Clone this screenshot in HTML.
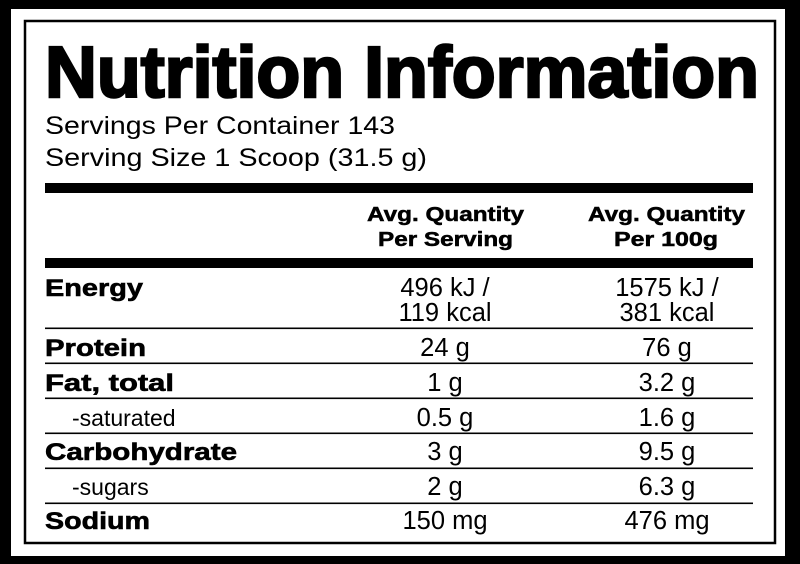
<!DOCTYPE html>
<html><head><meta charset="utf-8"><style>
html,body{margin:0;padding:0;background:#000;}
svg{display:block}
text{font-family:"Liberation Sans",Arial,sans-serif;fill:#000}
.b{font-weight:bold}
</style></head><body>
<svg width="800" height="564" viewBox="0 0 800 564" xmlns="http://www.w3.org/2000/svg">
<rect x="0" y="0" width="800" height="564" fill="#000"/>
<rect x="11" y="9" width="774" height="547" fill="#fff"/>
<rect x="25" y="21" width="750" height="522" fill="none" stroke="#000" stroke-width="2.5"/>
<text x="45" y="97" font-size="72" class="b" stroke="#000" stroke-width="2.5" textLength="714" lengthAdjust="spacingAndGlyphs">Nutrition Information</text>
<text x="45" y="134" font-size="25" textLength="350" lengthAdjust="spacingAndGlyphs">Servings Per Container 143</text>
<text x="45" y="166" font-size="25" textLength="382" lengthAdjust="spacingAndGlyphs">Serving Size 1 Scoop (31.5 g)</text>
<rect x="45" y="183" width="708" height="10" fill="#000"/>
<rect x="45" y="258" width="708" height="10" fill="#000"/>
<g class="b" font-size="20" stroke="#000" stroke-width="0.5">
<text x="367" y="221" textLength="157" lengthAdjust="spacingAndGlyphs">Avg. Quantity</text>
<text x="378" y="246" textLength="135" lengthAdjust="spacingAndGlyphs">Per Serving</text>
<text x="588" y="221" textLength="157" lengthAdjust="spacingAndGlyphs">Avg. Quantity</text>
<text x="614" y="246" textLength="104" lengthAdjust="spacingAndGlyphs">Per 100g</text>
</g>
<g fill="#000">
<rect x="45" y="327.5" width="708" height="1.6"/>
<rect x="45" y="362.5" width="708" height="1.6"/>
<rect x="45" y="397.5" width="708" height="1.6"/>
<rect x="45" y="432.5" width="708" height="1.6"/>
<rect x="45" y="467.5" width="708" height="1.6"/>
<rect x="45" y="502.5" width="708" height="1.6"/>
</g>
<g class="b" font-size="24" stroke="#000" stroke-width="0.6">
<text x="45" y="296" textLength="98" lengthAdjust="spacingAndGlyphs">Energy</text>
<text x="45" y="356" textLength="101" lengthAdjust="spacingAndGlyphs">Protein</text>
<text x="45" y="391" textLength="129" lengthAdjust="spacingAndGlyphs">Fat, total</text>
<text x="45" y="460" textLength="192" lengthAdjust="spacingAndGlyphs">Carbohydrate</text>
<text x="45" y="529" textLength="105" lengthAdjust="spacingAndGlyphs">Sodium</text>
</g>
<g font-size="23">
<text x="72" y="426">-saturated</text>
<text x="72" y="495">-sugars</text>
</g>
<g font-size="25.5" text-anchor="middle">
<text x="445" y="296">496 kJ /</text>
<text x="445" y="321">119 kcal</text>
<text x="667" y="296">1575 kJ /</text>
<text x="667" y="321">381 kcal</text>
<text x="445" y="356">24 g</text><text x="667" y="356">76 g</text>
<text x="445" y="391">1 g</text><text x="667" y="391">3.2 g</text>
<text x="445" y="426">0.5 g</text><text x="667" y="426">1.6 g</text>
<text x="445" y="460">3 g</text><text x="667" y="460">9.5 g</text>
<text x="445" y="495">2 g</text><text x="667" y="495">6.3 g</text>
<text x="445" y="529">150 mg</text><text x="667" y="529">476 mg</text>
</g>
</svg>
</body></html>
